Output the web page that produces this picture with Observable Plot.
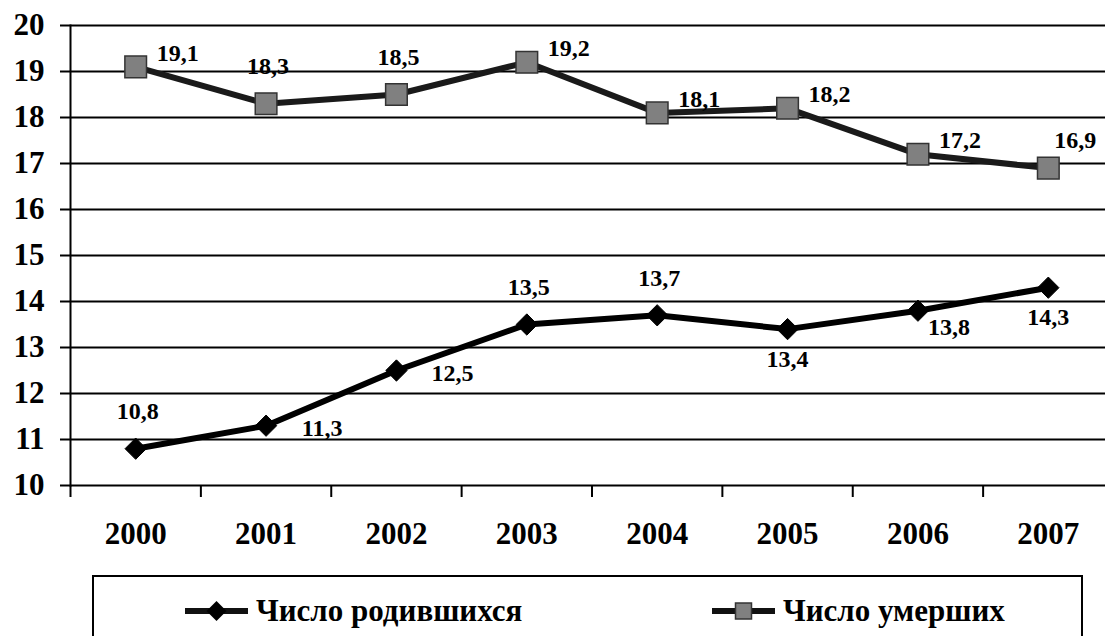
<!DOCTYPE html>
<html>
<head>
<meta charset="utf-8">
<script src="https://cdn.jsdelivr.net/npm/d3@7"></script>
<script src="https://cdn.jsdelivr.net/npm/@observablehq/plot@0.6"></script>
<style>
  html, body { margin: 0; padding: 0; background: #fff; overflow: hidden; }
  #wrap { position: relative; width: 1105px; height: 636px; }
  #legend { position: absolute; left: 92px; top: 575px; width: 991px; height: 90px; border: 2px solid #000; box-sizing: border-box; font-family: "Liberation Serif", "Times New Roman", serif; font-weight: bold; font-size: 31px; }
  .item { position: absolute; top: 16px; display: flex; align-items: center; white-space: nowrap; }
  .item svg { margin-right: 8px; }
  svg.plotchart text { font-family: "Liberation Serif", "Times New Roman", serif; font-weight: bold; }
</style>
</head>
<body>
<div id="wrap"><div id="chart"></div><div id="legend"></div></div>
<script>
const years = [2000, 2001, 2002, 2003, 2004, 2005, 2006, 2007];
const births = [10.8, 11.3, 12.5, 13.5, 13.7, 13.4, 13.8, 14.3];
const deaths = [19.1, 18.3, 18.5, 19.2, 18.1, 18.2, 17.2, 16.9];
const birthPlace = ["above", "right", "right", "above", "above", "below", "below-right", "below"];
const deathPlace = ["right-up", "above", "above", "right-up", "right-up", "right-up", "right-up", "above-right"];
const seriesNames = ["Число родившихся", "Число умерших"];
const yTicks = d3.range(10, 21);

const placeOffsets = {
  "above": [2, -37],
  "right": [56, 3],
  "right-up": [42, -14],
  "above-right": [27, -28],
  "below": [0, 30],
  "below-right": [31, 17]
};

const fmt = v => d3.format(".1f")(v).replace(".", ",");
const birthData = years.map((y, i) => ({year: y, value: births[i], place: birthPlace[i]}));
const deathData = years.map((y, i) => ({year: y, value: deaths[i], place: deathPlace[i]}));
const boundaries = years.map(y => y - 0.5);

const labelMarks = [];
for (const [key, [dx, dy]] of Object.entries(placeOffsets)) {
  for (const data of [birthData, deathData]) {
    const sub = data.filter(d => d.place === key);
    if (sub.length) labelMarks.push(Plot.text(sub, {x: "year", y: "value", text: d => fmt(d.value), dx, dy, fontSize: 24, fontWeight: "bold", fill: "#000"}));
  }
}

const chart = Plot.plot({
  width: 1105,
  height: 575,
  marginLeft: 70,
  marginTop: 25,
  marginBottom: 90,
  marginRight: -8,
  className: "plotchart",
  style: {fontFamily: '"Liberation Serif", "Times New Roman", serif', fontWeight: "bold", fontSize: "31px", background: "#fff", color: "#000"},
  x: {domain: [years[0] - 0.5, years[years.length - 1] + 0.5]},
  y: {domain: [10, 20]},
  marks: [
    Plot.gridY(yTicks, {stroke: "#000", strokeOpacity: 1, strokeWidth: 2}),
    Plot.frame({anchor: "left", stroke: "#000", strokeWidth: 2}),
    Plot.axisY({ticks: yTicks, tickSize: 10, tickPadding: 16, stroke: "#000", strokeWidth: 2, fontSize: 31, fontWeight: "bold", label: null}),
    Plot.axisX({ticks: boundaries, tickSize: 12, tickFormat: () => "", stroke: "#000", strokeWidth: 2, label: null}),
    Plot.axisX({ticks: years, tickSize: 0, tickPadding: 36, tickFormat: d => String(d), fontSize: 31, fontWeight: "bold", label: null}),
    Plot.line(deathData, {x: "year", y: "value", stroke: "#1a1a1a", strokeWidth: 6}),
    Plot.line(birthData, {x: "year", y: "value", stroke: "#000", strokeWidth: 6}),
    Plot.dot(deathData, {x: "year", y: "value", symbol: "square", r: 12.2, fill: "#808080", stroke: "#333", strokeWidth: 1.5}),
    Plot.dot(birthData, {x: "year", y: "value", symbol: "diamond2", r: 9.6, fill: "#000", stroke: "#000", strokeWidth: 1}),
    ...labelMarks
  ]
});
document.getElementById("chart").appendChild(chart);

// Legend
const legend = document.getElementById("legend");
function addItem(left, name, kind) {
  const div = document.createElement("div");
  div.className = "item";
  div.style.left = left + "px";
  const w = 63;
  const marker = kind === "diamond"
    ? `<polygon points="${w/2},3 ${w/2+10},13 ${w/2},23 ${w/2-10},13" fill="#000"/>`
    : `<rect x="${w/2-8}" y="5" width="16" height="16" fill="#808080" stroke="#333" stroke-width="1.5"/>`;
  div.innerHTML = `<svg width="${w}" height="26"><line x1="0" x2="${w}" y1="13" y2="13" stroke="#111" stroke-width="6"/>${marker}</svg><span>${name}</span>`;
  legend.appendChild(div);
}
addItem(185 - 94, seriesNames[0], "diamond");
addItem(712 - 94, seriesNames[1], "square");
</script>
</body>
</html>
